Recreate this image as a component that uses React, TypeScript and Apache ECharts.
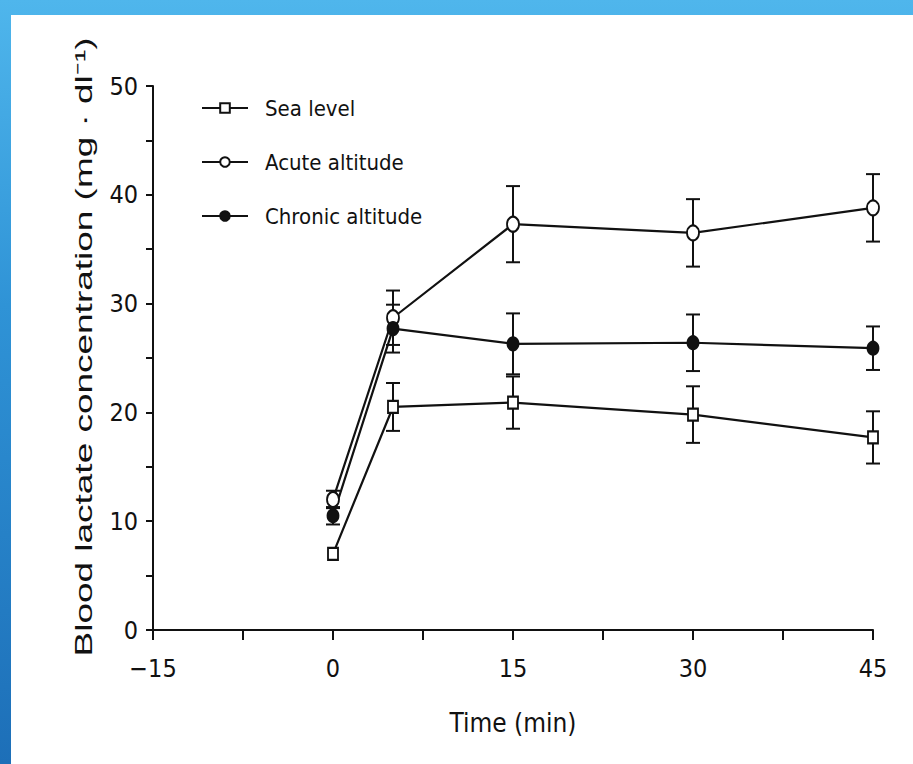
import React, { useEffect, useRef } from "react";
import * as echarts from "echarts";

const times = [0, 5, 15, 30, 45];
const seaLevel = [7.0, 20.5, 20.9, 19.8, 17.7];
const seaLevelErr = [0, 2.2, 2.4, 2.6, 2.4];
const acute = [12.0, 28.7, 37.3, 36.5, 38.8];
const acuteErr = [0.8, 2.5, 3.5, 3.1, 3.1];
const chronic = [10.5, 27.7, 26.3, 26.4, 25.9];
const chronicErr = [0.8, 2.2, 2.8, 2.6, 2.0];
const seriesNames = ["Sea level", "Acute altitude", "Chronic altitude"];
const xTicks = [-15, 0, 15, 30, 45];
const yTicks = [0, 10, 20, 30, 40, 50];

const FONT = '"Liberation Sans Narrow", "DejaVu Sans Condensed", "Liberation Sans", Arial, sans-serif';

function errorBars(name: string, values: number[], errs: number[]) {
  const data = times
    .map((t, i) => [t, values[i] - errs[i], values[i] + errs[i]])
    .filter((d, i) => errs[i] > 0);
  return {
    type: "custom",
    name: name + " error",
    z: 1,
    data,
    renderItem: (params: any, api: any) => {
      const x = api.value(0);
      const lo = api.coord([x, api.value(1)]);
      const hi = api.coord([x, api.value(2)]);
      const w = 7;
      const style = { stroke: "#111", lineWidth: 2 };
      return {
        type: "group",
        children: [
          { type: "line", shape: { x1: lo[0], y1: lo[1], x2: hi[0], y2: hi[1] }, style },
          { type: "line", shape: { x1: lo[0] - w, y1: lo[1], x2: lo[0] + w, y2: lo[1] }, style },
          { type: "line", shape: { x1: hi[0] - w, y1: hi[1], x2: hi[0] + w, y2: hi[1] }, style },
        ],
      };
    },
  };
}

function lineSeries(name: string, values: number[], symbol: string, size: number[]) {
  return {
    type: "line",
    name,
    z: 3,
    data: times.map((t, i) => [t, values[i]]),
    symbol,
    symbolSize: size,
    showAllSymbol: true,
    lineStyle: { color: "#111", width: 2.2 },
    itemStyle: { color: "#111", borderColor: "#111", borderWidth: 2 },
  };
}

export default function App() {
  const ref = useRef<HTMLDivElement>(null);
  useEffect(() => {
    if (!ref.current) return;
    const chart = echarts.init(ref.current, undefined, { renderer: "svg" });
    chart.setOption({
      animation: false,
      backgroundColor: "transparent",
      grid: { left: 153, top: 86, width: 720, height: 544 },
      legend: {
        orient: "vertical",
        left: 196,
        top: 92,
        itemWidth: 46,
        itemHeight: 12,
        itemGap: 32,
        data: seriesNames,
        textStyle: { fontSize: 22, fontFamily: FONT, color: "#111", padding: [0, 0, 0, 12] },
      },
      xAxis: {
        type: "value",
        min: -15,
        max: 45,
        interval: 15,
        name: "Time (min)",
        nameLocation: "middle",
        nameGap: 80,
        nameTextStyle: { fontSize: 26, fontFamily: FONT, color: "#111" },
        axisLine: { show: true, onZero: false, lineStyle: { color: "#111", width: 2 } },
        axisTick: { show: true, inside: false, length: 10, lineStyle: { color: "#111", width: 2 } },
        minorTick: { show: true, splitNumber: 2, length: 10, lineStyle: { color: "#111", width: 2 } },
        splitLine: { show: false },
        axisLabel: {
          fontSize: 25,
          fontFamily: FONT,
          color: "#111",
          margin: 26,
          formatter: (v: number) => (xTicks.includes(v) ? (v < 0 ? "\u2212" + Math.abs(v) : String(v)) : ""),
        },
      },
      yAxis: {
        type: "value",
        min: 0,
        max: 50,
        interval: 10,
        axisLine: { show: true, onZero: false, lineStyle: { color: "#111", width: 2 } },
        axisTick: { show: true, inside: false, length: 7, lineStyle: { color: "#111", width: 2 } },
        minorTick: { show: true, splitNumber: 2, length: 7, lineStyle: { color: "#111", width: 2 } },
        splitLine: { show: false },
        axisLabel: {
          fontSize: 25,
          fontFamily: FONT,
          color: "#111",
          margin: 15,
          formatter: (v: number) => (yTicks.includes(v) ? String(v) : ""),
        },
      },
      graphic: [
        {
          type: "text",
          x: 84,
          y: 347,
          rotation: Math.PI / 2,
          scaleX: 1.54,
          style: {
            text: "Blood lactate concentration (mg \u00b7 dl\u207b\u00b9)",
            font: '24px "Liberation Sans", Arial, sans-serif',
            fill: "#111",
            textAlign: "center",
            textVerticalAlign: "middle",
          },
        },
      ],
      series: [
        errorBars(seriesNames[0], seaLevel, seaLevelErr),
        errorBars(seriesNames[1], acute, acuteErr),
        errorBars(seriesNames[2], chronic, chronicErr),
        lineSeries(seriesNames[0], seaLevel, "emptyRect", [10, 12]),
        lineSeries(seriesNames[1], acute, "emptyCircle", [12, 15]),
        lineSeries(seriesNames[2], chronic, "circle", [11, 13]),
      ],
    });
    return () => chart.dispose();
  }, []);

  return (
    <div
      style={{
        position: "fixed",
        left: 0,
        top: 0,
        width: 913,
        height: 764,
        background: "linear-gradient(180deg, #4fb6ec 0%, #2f93d6 40%, #1d6fb8 100%)",
      }}
    >
      <div style={{ position: "absolute", left: 11, top: 15, right: 0, bottom: 0, background: "#fff" }} />
      <div ref={ref} style={{ position: "absolute", left: 0, top: 0, width: 913, height: 764 }} />
    </div>
  );
}
